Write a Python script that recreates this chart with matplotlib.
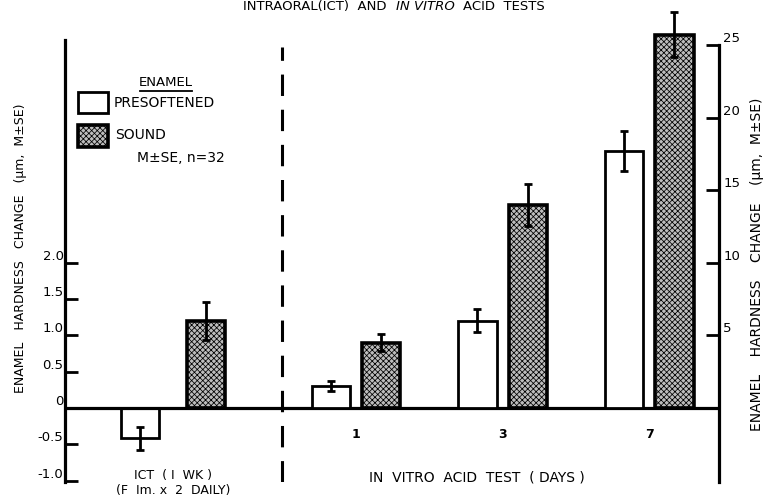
import matplotlib
matplotlib.use("Agg")
import matplotlib.pyplot as plt
from matplotlib.patches import Rectangle
import numpy as np

# ---------------- data ----------------
groups = ["ICT (I WK)", "1", "3", "7"]
series = ["PRESOFTENED", "SOUND"]
# ICT values read on the left scale
ict_presoftened = -0.42
ict_presoftened_err = 0.16
ict_sound = 1.20
ict_sound_err = 0.26
# In vitro values read on the right scale (days 1, 3, 7)
days = ["1", "3", "7"]
vitro_presoftened = [1.5, 6.0, 17.7]
vitro_presoftened_err = [0.35, 0.8, 1.35]
vitro_sound = [4.5, 14.0, 25.7]
vitro_sound_err = [0.6, 1.45, 1.55]
left_ticks = [-1.0, -0.5, 0.0, 0.5, 1.0, 1.5, 2.0]
left_ticklabels = ["-1.0", "-0.5", "0", "0.5", "1.0", "1.5", "2.0"]
right_ticks = [5, 10, 15, 20, 25]
right_ticklabels = ["5", "10", "15", "20", "25"]

# ---------------- layout ----------------
W, H = 769, 498
plt.rcParams["hatch.linewidth"] = 0.55
plt.rcParams["font.family"] = ["DejaVu Sans"]
fig = plt.figure(figsize=(W / 100, H / 100), dpi=100)

def fx(x):
    return x / W

def fy(y):
    return 1 - y / H

ax_left_px, ax_right_px, ax_top_px, ax_bot_px = 65, 719, 0, 482
ax = fig.add_axes([fx(ax_left_px), fy(ax_bot_px), (ax_right_px - ax_left_px) / W,
                   (ax_bot_px - ax_top_px) / H])
ax.patch.set_alpha(0)

group_pos = np.array([0.0, 1.25, 2.25, 3.25])
offset_ict = 0.225
offset_vitro = 0.172
width = 0.262
separator_x = 0.744
scale_ratio = 5.0
ylim = (-1.02, 5.62)
left_top = 5.07
ax.set_ylim(*ylim)
ax.set_xlim(-0.737, 3.727)

ax2 = ax.twinx()
ax2.set_ylim(ylim[0] * scale_ratio, ylim[1] * scale_ratio)
ax2.patch.set_alpha(0)

sound_face = "#bdbdbd"
pres_style = dict(facecolor="white", edgecolor="black", linewidth=2.0, zorder=3)
sound_style = dict(facecolor=sound_face, edgecolor="black", linewidth=2.6, hatch="xxxxxx", zorder=3)
err_style = dict(fmt="none", ecolor="black", elinewidth=2.0, capsize=3, capthick=2.0, zorder=4)

# ICT bars (left scale)
ax.bar(group_pos[0] - offset_ict, ict_presoftened, width, **pres_style)
ax.bar(group_pos[0] + offset_ict, ict_sound, width, **sound_style)
ax.errorbar(group_pos[0] - offset_ict, ict_presoftened, yerr=ict_presoftened_err, **err_style)
ax.errorbar(group_pos[0] + offset_ict, ict_sound, yerr=ict_sound_err, **err_style)

# In vitro bars (right scale)
vx = group_pos[1:]
ax2.bar(vx - offset_vitro, vitro_presoftened, width, **pres_style)
ax2.bar(vx + offset_vitro, vitro_sound, width, **sound_style)
ax2.errorbar(vx - offset_vitro, vitro_presoftened, yerr=vitro_presoftened_err, **err_style)
ax2.errorbar(vx + offset_vitro, vitro_sound, yerr=vitro_sound_err, **err_style)

# zero line and dashed separator
ax.axhline(0, color="black", linewidth=2.3, zorder=5)
ax.axvline(separator_x, color="black", linewidth=2.2, dashes=(7, 4.5),
           ymin=0, ymax=(4.97 - ylim[0]) / (ylim[1] - ylim[0]), zorder=2)

# spines
for a in (ax, ax2):
    for s in ("top", "bottom"):
        a.spines[s].set_visible(False)
ax.spines["right"].set_visible(False)
ax2.spines["left"].set_visible(False)
ax.spines["left"].set_linewidth(2.3)
ax.spines["left"].set_bounds(ylim[0], left_top)
ax2.spines["right"].set_linewidth(2.3)
ax2.spines["right"].set_bounds(ylim[0] * scale_ratio, 25)

ax.set_xticks([])
ax.set_yticks(left_ticks)
ax.set_yticklabels(left_ticklabels)
ax.tick_params(axis="y", direction="in", length=9.5, width=2.0, pad=1, labelsize=9.5)
ax2.set_yticks(right_ticks)
ax2.set_yticklabels(right_ticklabels)
ax2.tick_params(axis="y", direction="in", length=9.5, width=2.0, pad=3, labelsize=9.5)
for lab in ax.get_yticklabels():
    lab.set_verticalalignment("bottom")
for lab in ax2.get_yticklabels():
    lab.set_verticalalignment("bottom")

# group labels
for gx, d in zip(vx, days):
    ax.annotate(d, (gx, 0), xytext=(0, -19), textcoords="offset points", ha="center",
                va="center", fontsize=9, fontweight="bold")

fig.text(fx(173), fy(475), "ICT  ( I  WK )", ha="center", va="center", fontsize=9)
fig.text(fx(173), fy(490), "(F  Im. x  2  DAILY)", ha="center", va="center", fontsize=9)
fig.text(fx(477), fy(477), "IN  VITRO  ACID  TEST  ( DAYS )", ha="center", va="center",
         fontsize=10)

# axis labels
fig.text(fx(21), fy(248), "ENAMEL   HARDNESS   CHANGE   (\u03bcm,  M\u00b1SE)", rotation=90,
         ha="center", va="center", fontsize=9)
fig.text(fx(757), fy(264), "ENAMEL    HARDNESS    CHANGE    (\u03bcm,  M\u00b1SE)", rotation=90,
         ha="center", va="center", fontsize=10)

# title: normal / italic / normal pieces chained one after another
ty = fy(10)
t1 = fig.text(fx(243), ty, "INTRAORAL(ICT)  AND", ha="left", va="baseline", fontsize=9.5)
t2 = fig.text(0, 0, "IN VITRO", ha="left", va="baseline", fontsize=9.5, style="italic")
t3 = fig.text(0, 0, "ACID  TESTS", ha="left", va="baseline", fontsize=9.5)
fig.canvas.draw()
r = fig.canvas.get_renderer()
gap = 9
b1 = t1.get_window_extent(r)
t2.set_position(((b1.x1 + gap) / W, ty))
fig.canvas.draw()
b2 = t2.get_window_extent(r)
t3.set_position(((b2.x1 + gap) / W, ty))

# legend
fig.text(fx(166), fy(82), "ENAMEL", ha="center", va="center", fontsize=9.5)
fig.add_artist(plt.Line2D([fx(140), fx(192)], [fy(91), fy(91)], color="black", linewidth=1.3))
fig.add_artist(Rectangle((fx(78), fy(113)), fx(108) - fx(78), fy(92) - fy(113),
                         transform=fig.transFigure, facecolor="white", edgecolor="black",
                         linewidth=2.0))
fig.add_artist(Rectangle((fx(78), fy(147)), fx(108) - fx(78), fy(125) - fy(147),
                         transform=fig.transFigure, facecolor=sound_face, edgecolor="black",
                         linewidth=2.6, hatch="xxxxxx"))
fig.text(fx(114), fy(103), series[0], ha="left", va="center", fontsize=10)
fig.text(fx(115), fy(135), series[1], ha="left", va="center", fontsize=10)
fig.text(fx(137), fy(158), "M\u00b1SE, n=32", ha="left", va="center", fontsize=10)

fig.savefig("out.png", dpi=100)
